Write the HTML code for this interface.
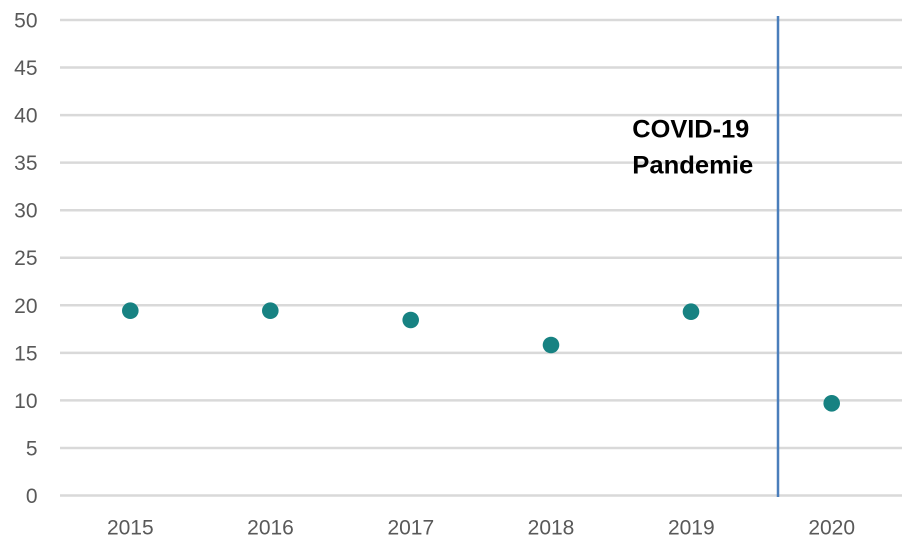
<!DOCTYPE html>
<html>
<head>
<meta charset="utf-8">
<style>
html,body{margin:0;padding:0;background:#fff;}
svg{display:block;}
</style>
</head>
<body>
<svg width="920" height="552" viewBox="0 0 920 552" xmlns="http://www.w3.org/2000/svg">
<rect width="920" height="552" fill="#ffffff"/>
<g stroke="#d9d9d9" stroke-width="2.5">
<line x1="60" y1="20" x2="902" y2="20"/>
<line x1="60" y1="67.55" x2="902" y2="67.55"/>
<line x1="60" y1="115.1" x2="902" y2="115.1"/>
<line x1="60" y1="162.65" x2="902" y2="162.65"/>
<line x1="60" y1="210.2" x2="902" y2="210.2"/>
<line x1="60" y1="257.75" x2="902" y2="257.75"/>
<line x1="60" y1="305.3" x2="902" y2="305.3"/>
<line x1="60" y1="352.85" x2="902" y2="352.85"/>
<line x1="60" y1="400.4" x2="902" y2="400.4"/>
<line x1="60" y1="447.95" x2="902" y2="447.95"/>
<line x1="60" y1="495.5" x2="902" y2="495.5"/>
</g>
<g font-family="Liberation Sans, sans-serif" font-size="21" fill="#595959" text-anchor="end">
<text x="37.5" y="27.5">50</text>
<text x="37.5" y="75">45</text>
<text x="37.5" y="122.6">40</text>
<text x="37.5" y="170.1">35</text>
<text x="37.5" y="217.7">30</text>
<text x="37.5" y="265.2">25</text>
<text x="37.5" y="312.8">20</text>
<text x="37.5" y="360.3">15</text>
<text x="37.5" y="407.9">10</text>
<text x="37.5" y="455.4">5</text>
<text x="37.5" y="503">0</text>
</g>
<g font-family="Liberation Sans, sans-serif" font-size="21" fill="#595959" text-anchor="middle">
<text x="130.3" y="534.3">2015</text>
<text x="270.5" y="534.3">2016</text>
<text x="410.8" y="534.3">2017</text>
<text x="551" y="534.3">2018</text>
<text x="691.3" y="534.3">2019</text>
<text x="831.7" y="534.3">2020</text>
</g>
<line x1="778" y1="16" x2="778" y2="497" stroke="#4a7ebb" stroke-width="2.5"/>
<g fill="#178282">
<circle cx="130.3" cy="310.7" r="8.3"/>
<circle cx="270.3" cy="310.7" r="8.3"/>
<circle cx="410.7" cy="320" r="8.3"/>
<circle cx="551" cy="345" r="8.3"/>
<circle cx="691" cy="311.7" r="8.3"/>
<circle cx="831.7" cy="403.3" r="8.3"/>
</g>
<g font-family="Liberation Sans, sans-serif" font-size="25" font-weight="bold" fill="#000">
<text x="632.3" y="137.3" textLength="117" lengthAdjust="spacingAndGlyphs">COVID-19</text>
<text x="632.3" y="173.3" textLength="121" lengthAdjust="spacingAndGlyphs">Pandemie</text>
</g>
</svg>
</body>
</html>
